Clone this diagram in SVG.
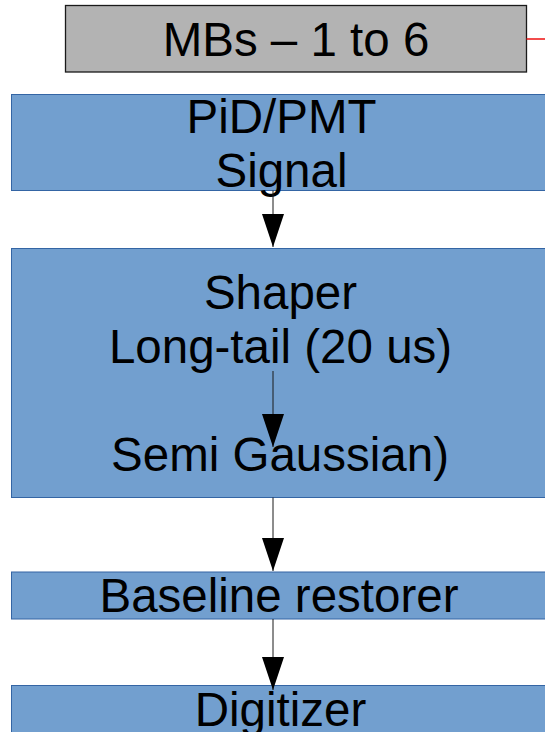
<svg xmlns="http://www.w3.org/2000/svg" width="545" height="732" viewBox="0 0 545 732">
  <style>
    .box { fill: #729fcf; stroke: #3465a4; stroke-width: 1; }
    .gray { fill: #b3b3b3; stroke: #1a1a1a; stroke-width: 1.3; }
    .lbl { font-family: "Liberation Sans", Arial, sans-serif; font-size: 47.5px; fill: #000; text-anchor: middle; }
    .conn { stroke: #1a1a1a; stroke-width: 1; fill: none; marker-end: url(#arrow); }
  </style>
  <defs>
    <marker id="arrow" markerUnits="userSpaceOnUse" viewBox="0 0 33 22" markerWidth="33" markerHeight="22" refX="33" refY="11" orient="auto">
      <path d="M0,0 L33,11 L0,22 Z" fill="#000"/>
    </marker>
  </defs>
  <rect width="545" height="732" fill="#fff"/>

  <g id="mbs">
    <rect class="gray" x="65.5" y="5.5" width="461" height="66.5"/>
    <line x1="526.5" y1="39" x2="545" y2="39" stroke="#ee1111" stroke-width="1.5"/>
    <text class="lbl" x="296" y="56">MBs – 1 to 6</text>
  </g>

  <g id="pid">
    <rect class="box" x="11.5" y="94.5" width="540" height="96"/>
    <text class="lbl" x="281.5" y="132.5">PiD/PMT</text>
    <text class="lbl" x="281.5" y="186.5">Signal</text>
  </g>

  <g id="shaper">
    <rect class="box" x="11.5" y="248.5" width="540" height="249"/>
    <text class="lbl" x="280.5" y="308.5">Shaper</text>
    <text class="lbl" x="280.5" y="362.5">Long-tail (20 us)</text>
    <text class="lbl" x="280" y="470.5">Semi Gaussian)</text>
  </g>

  <g id="baseline">
    <rect class="box" x="11.5" y="572" width="540" height="47"/>
    <text class="lbl" x="279" y="611.5">Baseline restorer</text>
  </g>

  <g id="digitizer">
    <rect class="box" x="11.5" y="685.5" width="540" height="60"/>
    <text class="lbl" x="280.5" y="725.5">Digitizer</text>
  </g>

  <g id="connectors">
    <line class="conn" x1="273" y1="190.5" x2="273" y2="247"/>
    <line class="conn" x1="273" y1="371" x2="273" y2="447"/>
    <line class="conn" x1="273" y1="497.5" x2="273" y2="571"/>
    <line class="conn" x1="273" y1="619" x2="273" y2="690"/>
  </g>
</svg>
